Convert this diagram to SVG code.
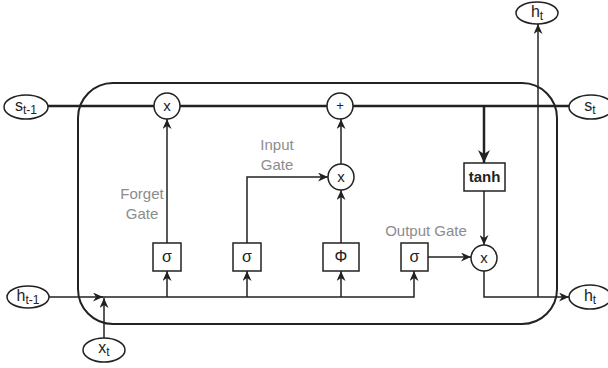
<svg xmlns="http://www.w3.org/2000/svg" width="608" height="368" viewBox="0 0 608 368">
<style>
.frame{fill:none;stroke:#222;stroke-width:2}
.ln{fill:none;stroke:#222;stroke-width:1.5}
.thick{fill:none;stroke:#222;stroke-width:2.5}
.node{fill:#fff;stroke:#222;stroke-width:1.5}
.t{font-family:"Liberation Sans",Arial,sans-serif;fill:#222;text-anchor:middle}
.lbl{font-family:"Liberation Sans",Arial,sans-serif;fill:#8c8c8c;font-size:15px;text-anchor:middle}
</style>
<defs>
<marker id="a" markerUnits="userSpaceOnUse" markerWidth="10" markerHeight="9" refX="10" refY="4.5" orient="auto">
<path d="M0,0 L10,4.5 L0,9 L3,4.5 Z" fill="#222"/>
</marker>
<marker id="ab" markerUnits="userSpaceOnUse" markerWidth="13" markerHeight="12" refX="13" refY="6" orient="auto">
<path d="M0,0 L13,6 L0,12 L4,6 Z" fill="#222"/>
</marker>
</defs>
<rect class="frame" x="78" y="83" width="479" height="241" rx="35" ry="35"/>
<g id="connectors">
<path class="thick" d="M48,106 H154"/>
<path class="thick" d="M180,106 H327"/>
<path class="thick" d="M353,106 H569"/>
<path class="thick" d="M484,106 V163" marker-end="url(#ab)"/>
<path class="ln" d="M167,243 V119" marker-end="url(#a)"/>
<path class="ln" d="M247,243 V177 H328" marker-end="url(#a)"/>
<path class="ln" d="M341,243 V190" marker-end="url(#a)"/>
<path class="ln" d="M341,164 V119" marker-end="url(#a)"/>
<path class="ln" d="M484,191 V245" marker-end="url(#a)"/>
<path class="ln" d="M428,257 H471" marker-end="url(#a)"/>
<path class="ln" d="M484,270 V297 H569" marker-end="url(#a)"/>
<path class="ln" d="M538,297 V24" marker-end="url(#a)"/>
<path class="ln" d="M49,297 H103" marker-end="url(#a)"/>
<path class="ln" d="M100,297 H414 V271" marker-end="url(#a)"/>
<path class="ln" d="M104,338 V298" marker-end="url(#a)"/>
<path class="ln" d="M167,297 V271" marker-end="url(#a)"/>
<path class="ln" d="M247,297 V271" marker-end="url(#a)"/>
<path class="ln" d="M341,297 V271" marker-end="url(#a)"/>
</g>
<g id="s_prev"><ellipse class="node" cx="26" cy="107" rx="22" ry="12"/><text class="t" x="26" y="111" font-size="16">s<tspan font-size="12" dy="3">t-1</tspan></text></g>
<g id="s_t"><ellipse class="node" cx="591" cy="107" rx="22" ry="12"/><text class="t" x="590" y="111" font-size="16">s<tspan font-size="12" dy="3">t</tspan></text></g>
<g id="h_prev"><ellipse class="node" cx="28" cy="297" rx="21" ry="11"/><text class="t" x="28" y="301" font-size="16">h<tspan font-size="12" dy="3">t-1</tspan></text></g>
<g id="h_t_right"><ellipse class="node" cx="590" cy="297" rx="21" ry="12"/><text class="t" x="590" y="301" font-size="16">h<tspan font-size="12" dy="3">t</tspan></text></g>
<g id="h_t_top"><ellipse class="node" cx="537" cy="13" rx="21" ry="11"/><text class="t" x="537" y="17" font-size="16">h<tspan font-size="12" dy="3">t</tspan></text></g>
<g id="x_t"><ellipse class="node" cx="104" cy="350" rx="21" ry="12"/><text class="t" x="104" y="353" font-size="16">x<tspan font-size="12" dy="3">t</tspan></text></g>
<g id="forget_mult"><circle class="node" cx="167" cy="106" r="13"/><text class="t" x="167" y="111" font-size="15">x</text></g>
<g id="add"><circle class="node" cx="340" cy="106" r="13"/><text class="t" x="340" y="110" font-size="13">+</text></g>
<g id="input_mult"><circle class="node" cx="341" cy="177" r="13"/><text class="t" x="341" y="182" font-size="15">x</text></g>
<g id="output_mult"><circle class="node" cx="484" cy="258" r="13"/><text class="t" x="484" y="263" font-size="15">x</text></g>
<g id="tanh"><rect class="node" x="464" y="163" width="41" height="28"/><text class="t" x="484.5" y="182" font-size="15" font-weight="bold">tanh</text></g>
<g id="forget_sigma"><rect class="node" x="153" y="243" width="28" height="28"/><text class="t" x="167" y="262" font-size="16">σ</text></g>
<g id="input_sigma"><rect class="node" x="233" y="243" width="28" height="28"/><text class="t" x="247" y="262" font-size="16">σ</text></g>
<g id="phi"><rect class="node" x="323" y="243" width="36" height="28"/><text class="t" x="341" y="262" font-size="16">Φ</text></g>
<g id="output_sigma"><rect class="node" x="401" y="243" width="27" height="28"/><text class="t" x="414.5" y="262" font-size="16">σ</text></g>
<g id="labels">
<text class="lbl" x="142" y="199">Forget</text>
<text class="lbl" x="142" y="219">Gate</text>
<text class="lbl" x="277" y="150">Input</text>
<text class="lbl" x="277" y="170">Gate</text>
<text class="lbl" x="426" y="236">Output Gate</text>
</g>
</svg>
